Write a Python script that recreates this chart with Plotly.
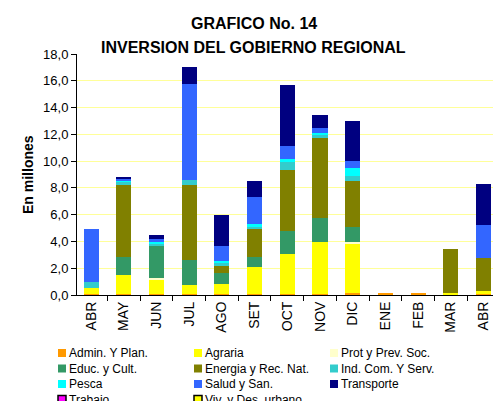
import plotly.graph_objects as go

months = ["ABR", "MAY", "JUN", "JUL", "AGO", "SET", "OCT", "NOV", "DIC", "ENE", "FEB", "MAR", "ABR"]

series_names = ["Admin. Y Plan.", "Agraria", "Prot y Prev. Soc.", "Educ. y Cult.",
                "Energia y Rec. Nat.", "Ind. Com. Y Serv.", "Pesca", "Salud y San.",
                "Transporte", "Trabajo", "Viv. y Des. urbano"]

admin   = [0.10, 0.10, 0.08, 0.08, 0.08, 0.08, 0.10, 0.10, 0.17, 0.08, 0.08, 0.07, 0.08]
agraria = [0.45, 1.39, 1.11, 0.67, 0.74, 2.01, 2.96, 3.86, 3.69, 0.00, 0.00, 0.08, 0.24]
prot    = [0.00, 0.00, 0.10, 0.00, 0.00, 0.00, 0.00, 0.00, 0.10, 0.00, 0.00, 0.00, 0.00]
educ    = [0.00, 1.35, 2.39, 1.89, 0.85, 0.75, 1.69, 1.79, 1.12, 0.00, 0.00, 0.00, 0.00]
energia = [0.00, 5.37, 0.00, 5.57, 0.52, 2.09, 4.58, 5.97, 3.43, 0.00, 0.00, 3.28, 2.47]
ind     = [0.45, 0.25, 0.10, 0.40, 0.20, 0.15, 0.60, 0.30, 0.40, 0.00, 0.00, 0.00, 0.00]
pesca   = [0.00, 0.12, 0.15, 0.00, 0.15, 0.24, 0.22, 0.05, 0.57, 0.00, 0.00, 0.00, 0.00]
salud   = [3.93, 0.10, 0.25, 7.14, 1.14, 2.02, 0.97, 0.40, 0.52, 0.00, 0.00, 0.00, 2.44]
transp  = [0.00, 0.13, 0.32, 1.29, 2.32, 1.17, 4.56, 0.97, 2.99, 0.00, 0.00, 0.00, 3.06]
trabajo = [0.0] * 13
viv     = [0.0] * 13

series_values = [admin, agraria, prot, educ, energia, ind, pesca, salud, transp, trabajo, viv]
colors = ["#FF9900", "#FFFF00", "#FFFFCC", "#339966", "#808000", "#33CCCC",
          "#00FFFF", "#3366FF", "#000080", "#FF00FF", "#FFFF00"]
legend_border = [None] * 9 + ["#000000", "#000000"]

yticks = [0, 2, 4, 6, 8, 10, 12, 14, 16, 18]

FONT = "Liberation Sans, Arial, sans-serif"

W, H = 493, 401
# plot area in screenshot pixels
L, R, T, B = 77, 493, 54, 295
PW, PH = R - L, B - T

def px(x):
    return (x - L) / PW

def py(y):
    return (B - y) / PH

fig = go.Figure()
xs = list(range(len(months)))
for name, vals, col in zip(series_names, series_values, colors):
    fig.add_trace(go.Bar(x=xs, y=vals, name=name, marker=dict(color=col, line=dict(width=0)),
                         width=0.46, showlegend=False))

annotations = [
    dict(text="<b>GRAFICO No. 14</b>", x=px(254), y=py(23), xref="paper", yref="paper",
         showarrow=False, font=dict(family=FONT, size=16, color="#000"), xanchor="center", yanchor="middle"),
    dict(text="<b>INVERSION DEL GOBIERNO REGIONAL</b>", x=px(253), y=py(47), xref="paper", yref="paper",
         showarrow=False, font=dict(family=FONT, size=16, color="#000"), xanchor="center", yanchor="middle"),
    dict(text="<b>En millones</b>", x=px(28), y=py(175), xref="paper", yref="paper", textangle=-90,
         showarrow=False, font=dict(family=FONT, size=14, color="#000"), xanchor="center", yanchor="middle"),
]
shapes = []

# custom legend, 3 columns
col_x = [58, 194, 330]
row_y0, row_dy = 353, 15.5
for i, (name, col, bc) in enumerate(zip(series_names, colors, legend_border)):
    r, c = divmod(i, 3)
    cx, cy = col_x[c], row_y0 + r * row_dy
    shapes.append(dict(type="rect", xref="paper", yref="paper",
                       x0=px(cx), x1=px(cx + 8), y0=py(cy + 4), y1=py(cy - 4),
                       fillcolor=col, line=dict(width=1.5 if bc else 0, color=bc or col)))
    annotations.append(dict(text=name, x=px(cx + 9), y=py(cy), xref="paper", yref="paper",
                            showarrow=False, xanchor="left", yanchor="middle",
                            font=dict(family=FONT, size=12, color="#000")))

fig.update_layout(
    width=W, height=H,
    margin=dict(l=L, r=W - R, t=T, b=H - B, autoexpand=False),
    barmode="stack",
    bargap=0,
    plot_bgcolor="white", paper_bgcolor="white",
    separators=",.",
    font=dict(family=FONT, size=13, color="#000"),
    annotations=annotations,
    shapes=shapes,
    showlegend=False,
    xaxis=dict(
        range=[-0.43, 12.29], automargin=False,
        tickmode="array", tickvals=xs, ticktext=months, tickangle=-90,
        ticks="", showgrid=False, zeroline=False,
        showline=True, linecolor="#000", linewidth=1,
        tickfont=dict(family=FONT, size=14, color="#000"),
        minor=dict(tickmode="array", tickvals=[i - 0.5 for i in range(14)],
                   ticks="outside", ticklen=5, tickcolor="#000", showgrid=False),
    ),
    yaxis=dict(
        range=[0, 18], tickmode="array", tickvals=yticks, tickformat=".1f", automargin=False,
        ticks="outside", ticklen=5, tickcolor="#000",
        showgrid=True, gridcolor="#FFFF99", gridwidth=1,
        zeroline=False, showline=True, linecolor="#000", linewidth=1,
        tickfont=dict(family=FONT, size=13, color="#000"),
    ),
)

fig.write_html("out.html", config={"displayModeBar": False},
               post_script="document.body.style.margin='0';document.body.style.overflow='hidden';")
